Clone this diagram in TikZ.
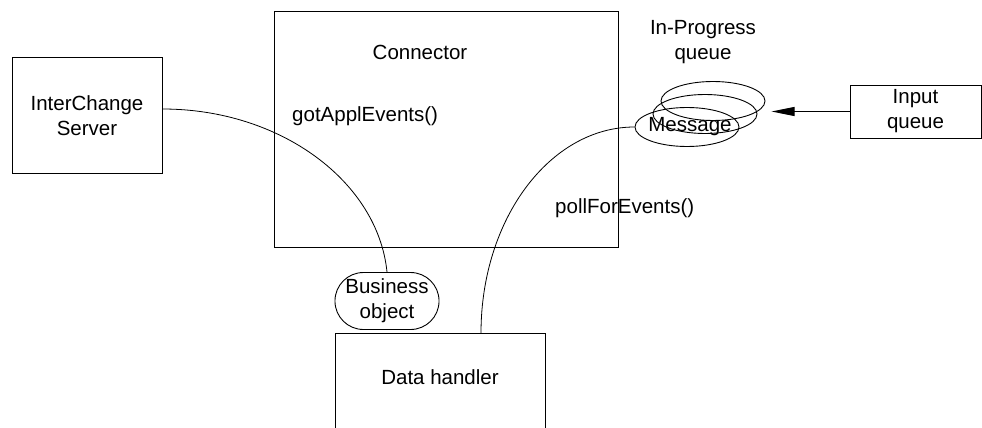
\documentclass[tikz,border=0pt]{standalone}
\usepackage{fontspec}
\setmainfont{Liberation Sans}
\usepackage{tikz}
\usetikzlibrary{arrows.meta,shapes.geometric,shapes.misc,positioning}

\begin{document}
\begin{tikzpicture}[x=1pt, y=-1pt,
      every node/.style={font=\fontsize{20.5}{25}\selectfont, align=center, inner sep=0pt},
      box/.style={draw, rectangle, line width=1pt},
      queue/.style={draw, ellipse, line width=0.9pt, minimum width=104pt, minimum height=39pt},
      link/.style={line width=0.8pt}
    ]
    \useasboundingbox (0,0) rectangle (982,428);
    \clip (0,0) rectangle (982,428);

    % boxes
    \node[box, minimum width=150pt, minimum height=115pt] (ics) at (87,115.5) {InterChange\\Server};
    \node[box, minimum width=344pt, minimum height=235pt] (conn) at (446,129.5) {};
    \node (connlbl) at (420,52) {Connector};
    \node[anchor=west] (got) at (292,116) {gotApplEvents()};
    \node[anchor=west] (poll) at (555,208) {pollForEvents()};
    \node[box, minimum width=131pt, minimum height=53pt] (input) at (915.5,111.5) {Input\\queue};
    \node[box, minimum width=210pt, minimum height=110pt, anchor=north] (dh) at (440,333) {};
    \node (dhlbl) at (440,377) {Data handler};

    % in-progress queue
    \node (iplbl) at (703,42) {In-Progress\\queue};
    \node[queue] (q1) at (713,101) {};
    \node[queue] (q2) at (705,114) {};
    \node[queue] (msg) at (687,127) {};
    \node (msglbl) at (690,127) {Message};

    \node[draw, rounded rectangle, line width=0.9pt, minimum width=101pt, minimum height=57pt] (bo) at (387,301) {Business\\object};

    % connectors
    \draw[link] (ics.east |- 0,109) .. controls (281,109) and (378,182) .. (bo.north);
    \draw[link] (dh.north -| 481,0) .. controls (481,219) and (550,127) .. (msg.west);
    \draw[line width=1pt, -{Triangle[length=23pt,width=9pt]}] (input.west) -- ++(-78,0) coordinate (tip);
\end{tikzpicture}
\end{document}
